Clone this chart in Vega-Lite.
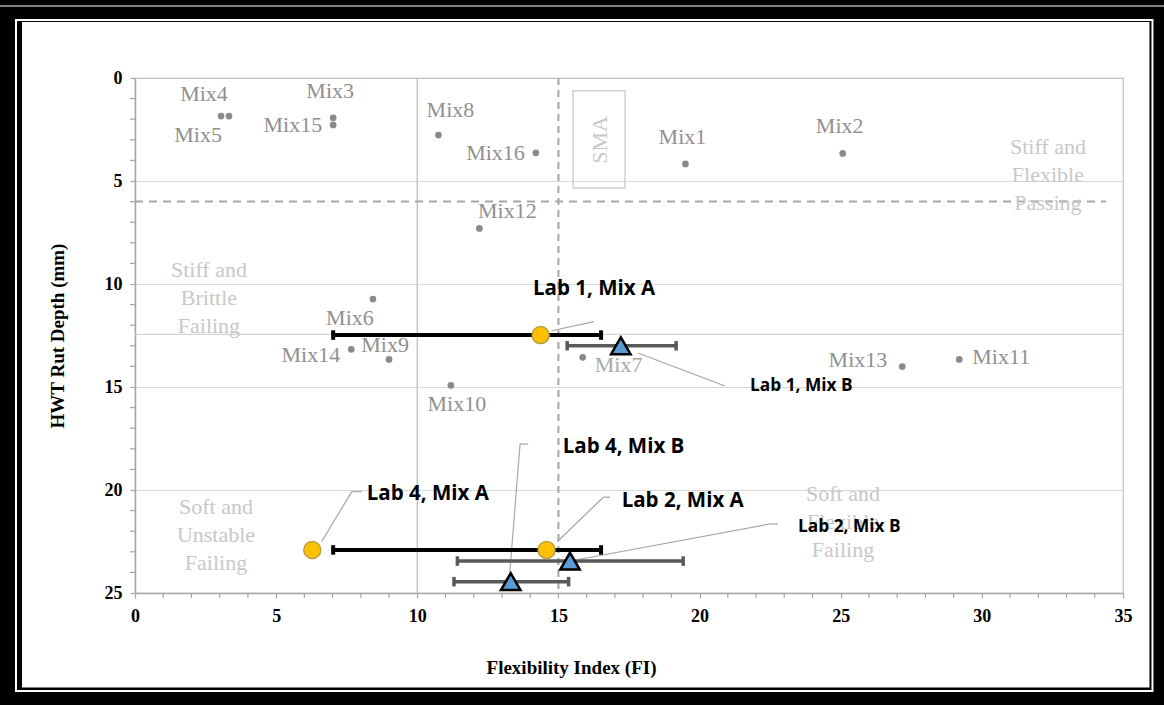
{
  "$schema": "https://vega.github.io/schema/vega-lite/v6.json",
  "width": 988,
  "height": 515,
  "autosize": {"type": "none"},
  "padding": {"left": 135, "top": 78, "right": 41, "bottom": 112},
  "background": "#ffffff",
  "config": {
    "view": {"stroke": "#bfbfbf", "strokeWidth": 1.2},
    "axis": {
      "labelFont": "Liberation Serif",
      "labelFontWeight": "bold",
      "labelFontSize": 18,
      "labelColor": "#000000",
      "labelOverlap": false,
      "labelFlush": false,
      "titleFont": "Liberation Serif",
      "titleFontWeight": "bold",
      "titleFontSize": 19,
      "titleColor": "#000000",
      "domainColor": "#a6a6a6",
      "domainWidth": 1.5,
      "tickColor": "#a6a6a6",
      "tickSize": 5,
      "tickWidth": 1.2
    }
  },
  "datasets": {
    "mixes": [
      {"mix": "Mix1", "fi": 19.5, "rut": 4.17},
      {"mix": "Mix2", "fi": 25.07, "rut": 3.66},
      {"mix": "Mix3", "fi": 7.02, "rut": 1.93},
      {"mix": "Mix4", "fi": 3.33, "rut": 1.85},
      {"mix": "Mix5", "fi": 3.05, "rut": 1.85},
      {"mix": "Mix6", "fi": 8.43, "rut": 10.73},
      {"mix": "Mix7", "fi": 15.86, "rut": 13.56},
      {"mix": "Mix8", "fi": 10.75, "rut": 2.77},
      {"mix": "Mix9", "fi": 9.0, "rut": 13.66},
      {"mix": "Mix10", "fi": 11.19, "rut": 14.92},
      {"mix": "Mix11", "fi": 29.2, "rut": 13.66},
      {"mix": "Mix12", "fi": 12.2, "rut": 7.3},
      {"mix": "Mix13", "fi": 27.18, "rut": 14.01},
      {"mix": "Mix14", "fi": 7.66, "rut": 13.17},
      {"mix": "Mix15", "fi": 7.02, "rut": 2.28},
      {"mix": "Mix16", "fi": 14.2, "rut": 3.63}
    ],
    "labs": [
      {"lab": "Lab 1, Mix A", "series": "Mix A", "fi": 14.37, "rut": 12.48, "lx": 14.1, "ly": 10.24},
      {"lab": "Lab 1, Mix B", "series": "Mix B", "fi": 17.21, "rut": 13.0, "lx": 21.79, "ly": 14.95},
      {"lab": "Lab 4, Mix A", "series": "Mix A", "fi": 6.28, "rut": 22.91, "lx": 8.21, "ly": 20.19},
      {"lab": "Lab 2, Mix A", "series": "Mix A", "fi": 14.58, "rut": 22.91, "lx": 17.24, "ly": 20.53},
      {"lab": "Lab 2, Mix B", "series": "Mix B", "fi": 15.41, "rut": 23.45, "lx": 23.49, "ly": 21.8},
      {"lab": "Lab 4, Mix B", "series": "Mix B", "fi": 13.31, "rut": 24.45, "lx": 15.15, "ly": 17.91}
    ],
    "errorbars": [
      {"lab": "Lab 1, Mix A", "series": "Mix A", "rut": 12.48, "lo": 7.02, "hi": 16.51},
      {"lab": "Lab 2, Mix A", "series": "Mix A", "rut": 22.91, "lo": 7.02, "hi": 16.51},
      {"lab": "Lab 1, Mix B", "series": "Mix B", "rut": 13.0, "lo": 15.31, "hi": 19.17},
      {"lab": "Lab 2, Mix B", "series": "Mix B", "rut": 23.45, "lo": 11.42, "hi": 19.42},
      {"lab": "Lab 4, Mix B", "series": "Mix B", "rut": 24.45, "lo": 11.3, "hi": 15.36}
    ],
    "leaders": [
      {"lab": "Lab 1, Mix A", "x1": 14.76, "y1": 12.27, "x2": 16.26, "y2": 11.83},
      {"lab": "Lab 1, Mix B", "x1": 17.82, "y1": 13.35, "x2": 20.9, "y2": 14.95},
      {"lab": "Lab 4, Mix A", "x1": 6.61, "y1": 22.51, "x2": 7.68, "y2": 20.08},
      {"lab": "Lab 4, Mix A", "x1": 7.68, "y1": 20.08, "x2": 8.03, "y2": 20.08},
      {"lab": "Lab 4, Mix B", "x1": 13.28, "y1": 23.97, "x2": 13.64, "y2": 17.77},
      {"lab": "Lab 4, Mix B", "x1": 13.64, "y1": 17.77, "x2": 13.93, "y2": 17.77},
      {"lab": "Lab 2, Mix A", "x1": 14.96, "y1": 22.51, "x2": 16.59, "y2": 20.35},
      {"lab": "Lab 2, Mix A", "x1": 16.59, "y1": 20.35, "x2": 16.83, "y2": 20.35},
      {"lab": "Lab 2, Mix B", "x1": 15.76, "y1": 23.36, "x2": 22.49, "y2": 21.65},
      {"lab": "Lab 2, Mix B", "x1": 22.49, "y1": 21.65, "x2": 22.78, "y2": 21.65}
    ],
    "zones": [
      {"zone": "Stiff and\nBrittle\nFailing", "fi": 2.62, "rut": 9.32},
      {"zone": "Stiff and\nFlexible\nPassing", "fi": 32.34, "rut": 3.35},
      {"zone": "Soft and\nUnstable\nFailing", "fi": 2.87, "rut": 20.83},
      {"zone": "Soft and\nFlexible\nFailing", "fi": 25.08, "rut": 20.19}
    ],
    "xminor": [
      {"fi": 1}, {"fi": 2}, {"fi": 3}, {"fi": 4}, {"fi": 6}, {"fi": 7}, {"fi": 8}, {"fi": 9},
      {"fi": 11}, {"fi": 12}, {"fi": 13}, {"fi": 14}, {"fi": 16}, {"fi": 17}, {"fi": 18}, {"fi": 19},
      {"fi": 21}, {"fi": 22}, {"fi": 23}, {"fi": 24}, {"fi": 26}, {"fi": 27}, {"fi": 28}, {"fi": 29},
      {"fi": 31}, {"fi": 32}, {"fi": 33}, {"fi": 34}
    ],
    "yminor": [
      {"rut": 1}, {"rut": 2}, {"rut": 3}, {"rut": 4}, {"rut": 6}, {"rut": 7}, {"rut": 8}, {"rut": 9},
      {"rut": 11}, {"rut": 12}, {"rut": 13}, {"rut": 14}, {"rut": 16}, {"rut": 17}, {"rut": 18}, {"rut": 19},
      {"rut": 21}, {"rut": 22}, {"rut": 23}, {"rut": 24}
    ]
  },
  "layer": [
    {
      "data": {"values": [{"rut": 12.45}]},
      "mark": {"type": "rule", "color": "#d4d4d4", "strokeWidth": 1.3},
      "encoding": {
        "y": {
          "field": "rut",
          "type": "quantitative",
          "scale": {"domain": [0, 25], "reverse": true, "nice": false, "zero": false},
          "axis": {
            "values": [0, 5, 10, 15, 20, 25],
            "format": "d",
            "labelPadding": 8,
            "grid": true,
            "gridColor": "#d9d9d9",
            "gridWidth": 1.2,
            "gridOpacity": {"condition": {"test": "datum.value > 0 && datum.value < 25", "value": 1}, "value": 0},
            "title": "HWT Rut Depth (mm)",
            "titlePadding": 37
          }
        }
      }
    },
    {
      "data": {"values": [{"fi": 10}]},
      "mark": {"type": "rule", "color": "#bfbfbf", "strokeWidth": 1.3},
      "encoding": {
        "x": {
          "field": "fi",
          "type": "quantitative",
          "scale": {"domain": [0, 35], "nice": false, "zero": false},
          "axis": {
            "values": [0, 5, 10, 15, 20, 25, 30, 35],
            "format": "d",
            "labelPadding": 9,
            "grid": false,
            "title": "Flexibility Index (FI)",
            "titlePadding": 33,
            "titleX": 436
          }
        }
      }
    },
    {
      "data": {"name": "xminor"},
      "mark": {"type": "point", "shape": "M0,0L0,2", "size": 25, "filled": false, "stroke": "#a6a6a6", "strokeWidth": 1.2, "opacity": 1},
      "encoding": {
        "x": {"field": "fi", "type": "quantitative"},
        "y": {"datum": 25, "type": "quantitative"}
      }
    },
    {
      "data": {"name": "yminor"},
      "mark": {"type": "point", "shape": "M0,0L-2,0", "size": 25, "filled": false, "stroke": "#a6a6a6", "strokeWidth": 1.2, "opacity": 1},
      "encoding": {
        "x": {"datum": 0, "type": "quantitative"},
        "y": {"field": "rut", "type": "quantitative"}
      }
    },
    {
      "data": {"values": [{"fi": 15}]},
      "mark": {"type": "rule", "color": "#a6a6a6", "strokeWidth": 2, "strokeDash": [7, 5]},
      "encoding": {"x": {"field": "fi", "type": "quantitative"}}
    },
    {
      "data": {"values": [{"fi0": 0, "fi1": 34.4, "rut": 6}]},
      "mark": {"type": "rule", "color": "#a6a6a6", "strokeWidth": 2, "strokeDash": [8, 6]},
      "encoding": {
        "x": {"field": "fi0", "type": "quantitative"},
        "x2": {"field": "fi1"},
        "y": {"field": "rut", "type": "quantitative"}
      }
    },
    {
      "data": {"values": [{"fi0": 15.52, "fi1": 17.36, "r0": 0.62, "r1": 5.34}]},
      "mark": {"type": "rect", "fillOpacity": 0, "stroke": "#d0d0d0", "strokeWidth": 1.5},
      "encoding": {
        "x": {"field": "fi0", "type": "quantitative"},
        "x2": {"field": "fi1"},
        "y": {"field": "r0", "type": "quantitative"},
        "y2": {"field": "r1"}
      }
    },
    {
      "data": {"values": [{"label": "SMA", "fi": 16.47, "rut": 3.01}]},
      "mark": {"type": "text", "angle": 270, "font": "Liberation Serif", "fontSize": 22, "color": "#c8c8c8", "align": "center", "baseline": "middle"},
      "encoding": {
        "x": {"field": "fi", "type": "quantitative"},
        "y": {"field": "rut", "type": "quantitative"},
        "text": {"field": "label"}
      }
    },
    {
      "data": {"name": "zones"},
      "mark": {"type": "text", "font": "Liberation Serif", "fontSize": 22, "color": "#c8c8c8", "align": "center", "baseline": "middle", "lineBreak": "\n", "lineHeight": 28},
      "encoding": {
        "x": {"field": "fi", "type": "quantitative"},
        "y": {"field": "rut", "type": "quantitative"},
        "text": {"field": "zone"}
      }
    },
    {
      "data": {"name": "mixes"},
      "mark": {"type": "point", "filled": true, "size": 45, "color": "#8a8a8a", "opacity": 1},
      "encoding": {
        "x": {"field": "fi", "type": "quantitative"},
        "y": {"field": "rut", "type": "quantitative"}
      }
    },
    {
      "data": {"name": "mixes"},
      "encoding": {
        "x": {"field": "fi", "type": "quantitative"},
        "y": {"field": "rut", "type": "quantitative"},
        "text": {"field": "mix"}
      },
      "layer": [
        {"transform": [{"filter": {"field": "mix", "oneOf": ["Mix1", "Mix2", "Mix3"]}}],
         "mark": {"type": "text", "font": "Liberation Serif", "fontSize": 22, "color": "#909090", "align": "center", "baseline": "middle", "dx": -3, "dy": -27}},
        {"transform": [{"filter": {"field": "mix", "oneOf": ["Mix4"]}}],
         "mark": {"type": "text", "font": "Liberation Serif", "fontSize": 22, "color": "#909090", "align": "center", "baseline": "middle", "dx": -25, "dy": -22}},
        {"transform": [{"filter": {"field": "mix", "oneOf": ["Mix5", "Mix6"]}}],
         "mark": {"type": "text", "font": "Liberation Serif", "fontSize": 22, "color": "#909090", "align": "center", "baseline": "middle", "dx": -23, "dy": 19}},
        {"transform": [{"filter": {"field": "mix", "oneOf": ["Mix8"]}}],
         "mark": {"type": "text", "font": "Liberation Serif", "fontSize": 22, "color": "#909090", "align": "center", "baseline": "middle", "dx": 12, "dy": -25}},
        {"transform": [{"filter": {"field": "mix", "oneOf": ["Mix12"]}}],
         "mark": {"type": "text", "font": "Liberation Serif", "fontSize": 22, "color": "#909090", "align": "center", "baseline": "middle", "dx": 28, "dy": -17}},
        {"transform": [{"filter": {"field": "mix", "oneOf": ["Mix9"]}}],
         "mark": {"type": "text", "font": "Liberation Serif", "fontSize": 22, "color": "#909090", "align": "center", "baseline": "middle", "dx": -4, "dy": -14}},
        {"transform": [{"filter": {"field": "mix", "oneOf": ["Mix10"]}}],
         "mark": {"type": "text", "font": "Liberation Serif", "fontSize": 22, "color": "#909090", "align": "center", "baseline": "middle", "dx": 6, "dy": 19}},
        {"transform": [{"filter": {"field": "mix", "oneOf": ["Mix15", "Mix16"]}}],
         "mark": {"type": "text", "font": "Liberation Serif", "fontSize": 22, "color": "#909090", "align": "right", "baseline": "middle", "dx": -11, "dy": 0}},
        {"transform": [{"filter": {"field": "mix", "oneOf": ["Mix14"]}}],
         "mark": {"type": "text", "font": "Liberation Serif", "fontSize": 22, "color": "#909090", "align": "right", "baseline": "middle", "dx": -11, "dy": 6}},
        {"transform": [{"filter": {"field": "mix", "oneOf": ["Mix13"]}}],
         "mark": {"type": "text", "font": "Liberation Serif", "fontSize": 22, "color": "#909090", "align": "right", "baseline": "middle", "dx": -15, "dy": -7}},
        {"transform": [{"filter": {"field": "mix", "oneOf": ["Mix7"]}}],
         "mark": {"type": "text", "font": "Liberation Serif", "fontSize": 22, "color": "#a8a8a8", "align": "left", "baseline": "middle", "dx": 12, "dy": 8}},
        {"transform": [{"filter": {"field": "mix", "oneOf": ["Mix11"]}}],
         "mark": {"type": "text", "font": "Liberation Serif", "fontSize": 22, "color": "#909090", "align": "left", "baseline": "middle", "dx": 13, "dy": -2}}
      ]
    },
    {
      "data": {"name": "leaders"},
      "mark": {"type": "rule", "color": "#a6a6a6", "strokeWidth": 1.2},
      "encoding": {
        "x": {"field": "x1", "type": "quantitative"},
        "x2": {"field": "x2"},
        "y": {"field": "y1", "type": "quantitative"},
        "y2": {"field": "y2"}
      }
    },
    {
      "data": {"name": "errorbars"},
      "encoding": {
        "y": {"field": "rut", "type": "quantitative"},
        "color": {"field": "series", "type": "nominal", "scale": {"domain": ["Mix A", "Mix B"], "range": ["#000000", "#595959"]}, "legend": null},
        "strokeWidth": {"field": "series", "type": "nominal", "scale": {"domain": ["Mix A", "Mix B"], "range": [4, 3.5]}, "legend": null}
      },
      "layer": [
        {"mark": {"type": "rule"},
         "encoding": {"x": {"field": "lo", "type": "quantitative"}, "x2": {"field": "hi"}}},
        {"mark": {"type": "point", "shape": "M0,-1L0,1", "size": 90, "filled": false, "opacity": 1},
         "encoding": {"x": {"field": "lo", "type": "quantitative"}}},
        {"mark": {"type": "point", "shape": "M0,-1L0,1", "size": 90, "filled": false, "opacity": 1},
         "encoding": {"x": {"field": "hi", "type": "quantitative"}}}
      ]
    },
    {
      "data": {"name": "labs"},
      "transform": [{"filter": "datum.series === 'Mix A'"}],
      "mark": {"type": "point", "shape": "circle", "filled": true, "size": 290, "fill": "#FFC000", "stroke": "#b8a040", "strokeWidth": 1.5, "opacity": 1},
      "encoding": {
        "x": {"field": "fi", "type": "quantitative"},
        "y": {"field": "rut", "type": "quantitative"}
      }
    },
    {
      "data": {"name": "labs"},
      "transform": [{"filter": "datum.series === 'Mix B'"}],
      "mark": {"type": "point", "shape": "triangle-up", "filled": true, "size": 380, "fill": "#5B9BD5", "stroke": "#000000", "strokeWidth": 2.5, "opacity": 1},
      "encoding": {
        "x": {"field": "fi", "type": "quantitative"},
        "y": {"field": "rut", "type": "quantitative"}
      }
    },
    {
      "data": {"name": "labs"},
      "encoding": {
        "x": {"field": "lx", "type": "quantitative"},
        "y": {"field": "ly", "type": "quantitative"},
        "text": {"field": "lab"}
      },
      "layer": [
        {"transform": [{"filter": {"field": "lab", "oneOf": ["Lab 1, Mix A", "Lab 4, Mix A", "Lab 2, Mix A", "Lab 4, Mix B"]}}],
         "mark": {"type": "text", "font": "Open Sans", "fontWeight": "bold", "fontSize": 20.5, "color": "#000000", "align": "left", "baseline": "middle"}},
        {"transform": [{"filter": {"field": "lab", "oneOf": ["Lab 1, Mix B", "Lab 2, Mix B"]}}],
         "mark": {"type": "text", "font": "Open Sans", "fontWeight": "bold", "fontSize": 17.3, "color": "#000000", "align": "left", "baseline": "middle"}}
      ]
    },
    {
      "data": {"values": [{"frame": "outer"}]},
      "mark": {"type": "rect", "fillOpacity": 0, "stroke": "#000000", "strokeWidth": 30},
      "encoding": {
        "x": {"datum": -4.534, "type": "quantitative"},
        "x2": {"datum": 36.469},
        "y": {"datum": -3.447, "type": "quantitative"},
        "y2": {"datum": 30.316}
      }
    },
    {
      "data": {"values": [{"frame": "inner"}]},
      "mark": {"type": "rect", "fillOpacity": 0, "stroke": "#ffffff", "strokeWidth": 2},
      "encoding": {
        "x": {"datum": -4.216, "type": "quantitative"},
        "x2": {"datum": 36.044},
        "y": {"datum": -2.816, "type": "quantitative"},
        "y2": {"datum": 29.757}
      }
    },
    {
      "data": {"values": [{"frame": "edge"}]},
      "mark": {"type": "rect", "fillOpacity": 0, "stroke": "#ffffff", "strokeWidth": 1.2},
      "encoding": {
        "x": {"datum": -5.137, "type": "quantitative"},
        "x2": {"datum": 37.02},
        "y": {"datum": -3.495, "type": "quantitative"},
        "y2": {"datum": 31.17}
      }
    }
  ]
}
